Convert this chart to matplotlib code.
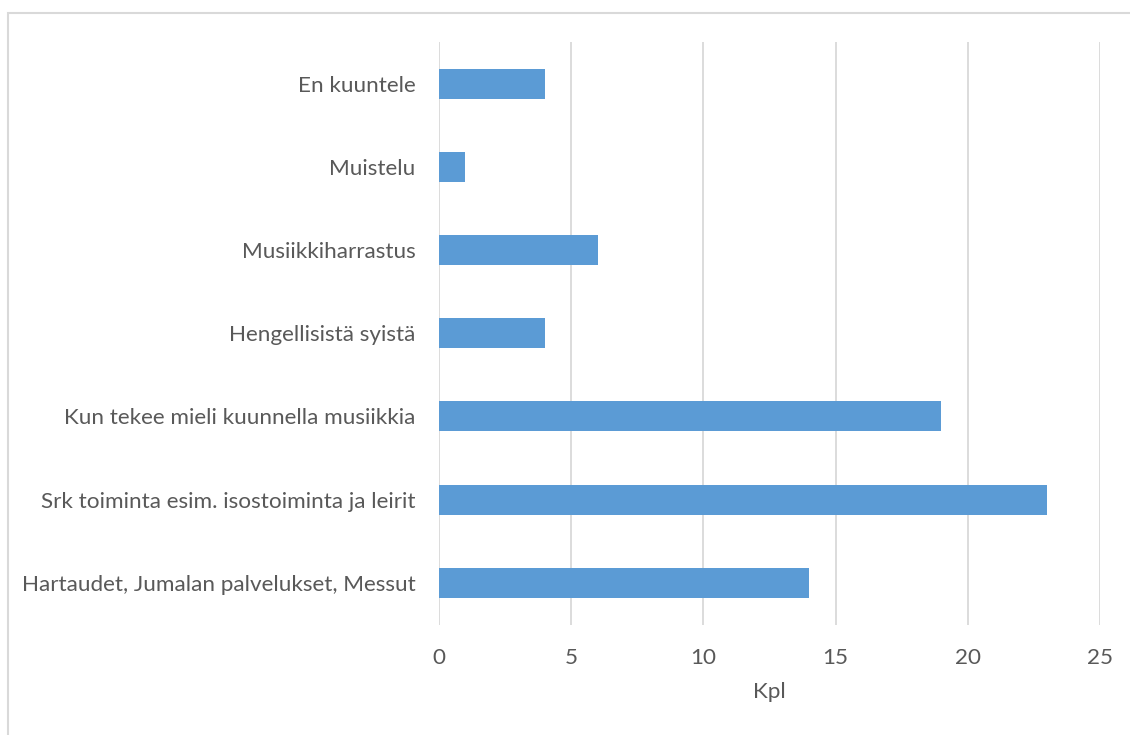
import matplotlib.pyplot as plt
from matplotlib.patches import Rectangle

# data, bottom to top as drawn
categories = ['Hartaudet, Jumalan palvelukset, Messut',
              'Srk toiminta esim. isostoiminta ja leirit',
              'Kun tekee mieli kuunnella musiikkia',
              'Hengellisistä syistä',
              'Musiikkiharrastus',
              'Muistelu',
              'En kuuntele']
values = [14, 23, 19, 4, 6, 1, 4]
xticks = [0, 5, 10, 15, 20, 25]

plt.rcParams['font.family'] = ['Lato', 'DejaVu Sans']

fig = plt.figure(figsize=(11.3, 7.35), dpi=100)
fig.patches.append(Rectangle((8 / 1130, -0.1), 1.2, 1.1 - 13 / 735,
                             transform=fig.transFigure, fill=False,
                             edgecolor='#d9d9d9', linewidth=1.5))

ax = fig.add_axes([439 / 1130, 1 - 624.5 / 735, 661 / 1130, 582.5 / 735])
y = range(len(categories))
ax.barh(y, values, height=0.36, color='#5b9bd5', zorder=3)
ax.set_xlim(0, 25)
ax.set_ylim(-0.5, len(categories) - 0.5)
ax.set_xticks(xticks)
ax.set_yticks(list(y))
ax.set_yticklabels(categories)
ax.grid(axis='x', color='#d9d9d9', linewidth=1.3, zorder=0)
for s in ax.spines.values():
    s.set_visible(False)
ax.tick_params(length=0, labelsize=16.2, colors='#595959', pad=17)
ax.tick_params(axis='y', pad=17)
ax.set_xlabel('Kpl', fontsize=16.2, color='#595959', labelpad=10)

fig.savefig('out.png', dpi=100)
